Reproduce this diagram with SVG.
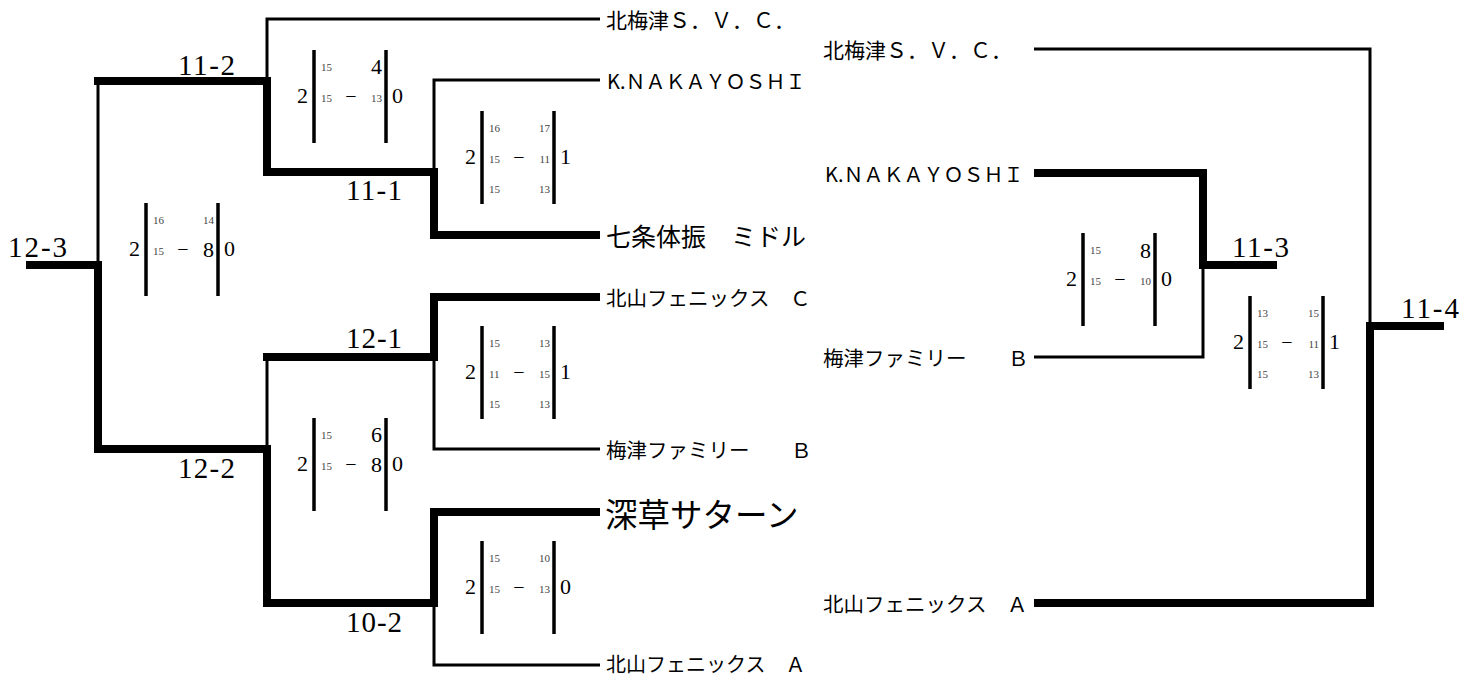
<svg xmlns="http://www.w3.org/2000/svg" width="1477" height="677" viewBox="0 0 1477 677">
<style>
.thin{fill:none;stroke:#000;stroke-width:3;stroke-linejoin:miter}
.thick{fill:none;stroke:#000;stroke-width:8;stroke-linejoin:miter}
.bar{stroke:#000;stroke-width:3.5}
.lbl{font-family:"Liberation Serif",serif;font-size:29px;fill:#000}
.big{font-family:"Liberation Serif",serif;font-size:22px;fill:#000}
.sm{font-family:"Liberation Serif",serif;font-size:11px;fill:#444}
.dash{font-family:"Liberation Serif",serif;font-size:20px;fill:#000;text-anchor:middle}
.end{text-anchor:end}
.name{font-family:"Noto Sans CJK JP","Noto Sans CJK SC",sans-serif;font-size:20.5px;fill:#000;dominant-baseline:central}
</style>
<rect width="1477" height="677" fill="#fff"/>
<g id="connectors">
<path class="thin" d="M98,265 V81"/>
<path class="thin" d="M267,81 V19 H600"/>
<path class="thin" d="M434,172 V80 H600"/>
<path class="thin" d="M267,449 V357"/>
<path class="thin" d="M434,357 V449 H600"/>
<path class="thin" d="M434,603 V665 H600"/>
<path class="thin" d="M1034,49 H1370 V326"/>
<path class="thin" d="M1034,357 H1203 V265"/>
<path class="thick" d="M26,265 H98 V449 H267 V603 H434 V512 H600"/>
<path class="thick" d="M94,81 H267 V172 H434 V235 H600"/>
<path class="thick" d="M263,357 H434 V297 H600"/>
<path class="thick" d="M1034,173 H1203 V265 H1277"/>
<path class="thick" d="M1034,603 H1370 V326 H1444"/>
</g>
<g id="labels">
<text class="lbl" x="8" y="257" textLength="59">12-3</text>
<text class="lbl" x="178" y="75" textLength="57">11-2</text>
<text class="lbl" x="346" y="200" textLength="56">11-1</text>
<text class="lbl" x="346" y="348" textLength="56">12-1</text>
<text class="lbl" x="178" y="478" textLength="57">12-2</text>
<text class="lbl" x="346" y="632" textLength="56">10-2</text>
<text class="lbl" x="1232" y="257" textLength="57">11-3</text>
<text class="lbl" x="1401" y="318" textLength="58">11-4</text>
</g>
<g id="score-12-3" transform="translate(146,203)">
<line class="bar" x1="0" y1="0" x2="0" y2="93"/><line class="bar" x1="72" y1="0" x2="72" y2="93"/>
<text class="big end" x="-6" y="53">2</text><text class="big" x="78" y="53">0</text>
<text class="sm" x="7" y="21">16</text><text class="sm end" x="68" y="21">14</text>
<text class="sm" x="7" y="52">15</text><text class="dash" x="37" y="53">−</text><text class="big end" x="68" y="54">8</text>
</g>
<g id="score-11-2" transform="translate(314,50)">
<line class="bar" x1="0" y1="0" x2="0" y2="93"/><line class="bar" x1="72" y1="0" x2="72" y2="93"/>
<text class="big end" x="-6" y="53">2</text><text class="big" x="78" y="53">0</text>
<text class="sm" x="7" y="21">15</text><text class="big end" x="68" y="24">4</text>
<text class="sm" x="7" y="52">15</text><text class="dash" x="37" y="53">−</text><text class="sm end" x="68" y="52">13</text>
</g>
<g id="score-12-2" transform="translate(314,418)">
<line class="bar" x1="0" y1="0" x2="0" y2="93"/><line class="bar" x1="72" y1="0" x2="72" y2="93"/>
<text class="big end" x="-6" y="53">2</text><text class="big" x="78" y="53">0</text>
<text class="sm" x="7" y="21">15</text><text class="big end" x="68" y="24">6</text>
<text class="sm" x="7" y="52">15</text><text class="dash" x="37" y="53">−</text><text class="big end" x="68" y="54">8</text>
</g>
<g id="score-11-1" transform="translate(482,111)">
<line class="bar" x1="0" y1="0" x2="0" y2="93"/><line class="bar" x1="72" y1="0" x2="72" y2="93"/>
<text class="big end" x="-6" y="53">2</text><text class="big" x="78" y="53">1</text>
<text class="sm" x="7" y="21">16</text><text class="sm end" x="68" y="21">17</text>
<text class="sm" x="7" y="52">15</text><text class="dash" x="37" y="53">−</text><text class="sm end" x="68" y="52">11</text>
<text class="sm" x="7" y="82">15</text><text class="sm end" x="68" y="82">13</text>
</g>
<g id="score-12-1" transform="translate(482,326)">
<line class="bar" x1="0" y1="0" x2="0" y2="93"/><line class="bar" x1="72" y1="0" x2="72" y2="93"/>
<text class="big end" x="-6" y="53">2</text><text class="big" x="78" y="53">1</text>
<text class="sm" x="7" y="21">15</text><text class="sm end" x="68" y="21">13</text>
<text class="sm" x="7" y="52">11</text><text class="dash" x="37" y="53">−</text><text class="sm end" x="68" y="52">15</text>
<text class="sm" x="7" y="82">15</text><text class="sm end" x="68" y="82">13</text>
</g>
<g id="score-10-2" transform="translate(482,541)">
<line class="bar" x1="0" y1="0" x2="0" y2="93"/><line class="bar" x1="72" y1="0" x2="72" y2="93"/>
<text class="big end" x="-6" y="53">2</text><text class="big" x="78" y="53">0</text>
<text class="sm" x="7" y="21">15</text><text class="sm end" x="68" y="21">10</text>
<text class="sm" x="7" y="52">15</text><text class="dash" x="37" y="53">−</text><text class="sm end" x="68" y="52">13</text>
</g>
<g id="score-11-3" transform="translate(1083,233)">
<line class="bar" x1="0" y1="0" x2="0" y2="93"/><line class="bar" x1="72" y1="0" x2="72" y2="93"/>
<text class="big end" x="-6" y="53">2</text><text class="big" x="78" y="53">0</text>
<text class="sm" x="7" y="21">15</text><text class="big end" x="68" y="25">8</text>
<text class="sm" x="7" y="52">15</text><text class="dash" x="37" y="53">−</text><text class="sm end" x="68" y="52">10</text>
</g>
<g id="score-11-4" transform="translate(1250,296)">
<line class="bar" x1="0" y1="0" x2="0" y2="93"/><line class="bar" x1="73" y1="0" x2="73" y2="93"/>
<text class="big end" x="-6" y="53">2</text><text class="big" x="79" y="53">1</text>
<text class="sm" x="7" y="21">13</text><text class="sm end" x="69" y="21">15</text>
<text class="sm" x="7" y="52">15</text><text class="dash" x="37" y="53">−</text><text class="sm end" x="69" y="52">11</text>
<text class="sm" x="7" y="82">15</text><text class="sm end" x="69" y="82">13</text>
</g>
<g id="team-l1"><text class="name" x="606" y="19" style="font-size:21px">北梅津Ｓ．Ｖ．Ｃ．</text></g>
<g id="team-l2"><text class="name" x="607" y="80" style="font-size:20px">K.ＮＡＫＡＹＯＳＨＩ</text></g>
<g id="team-l3"><text class="name" x="606" y="235" style="font-size:25px">七条体振　ミドル</text></g>
<g id="team-l4"><text class="name" x="606" y="297">北山フェニックス　Ｃ</text></g>
<g id="team-l5"><text class="name" x="606" y="449">梅津ファミリー　<tspan x="791">Ｂ</tspan></text></g>
<g id="team-l6"><text class="name" x="605" y="512" style="font-size:32.5px">深草サターン</text></g>
<g id="team-l7"><text class="name" x="606" y="663" style="font-size:20px">北山フェニックス　Ａ</text></g>
<g id="team-r1"><text class="name" x="823" y="49" style="font-size:21px">北梅津Ｓ．Ｖ．Ｃ．</text></g>
<g id="team-r2"><text class="name" x="825" y="173" style="font-size:20px">K.ＮＡＫＡＹＯＳＨＩ</text></g>
<g id="team-r3"><text class="name" x="823" y="357">梅津ファミリー　<tspan x="1008">Ｂ</tspan></text></g>
<g id="team-r4"><text class="name" x="823" y="603">北山フェニックス　Ａ</text></g>
</svg>
